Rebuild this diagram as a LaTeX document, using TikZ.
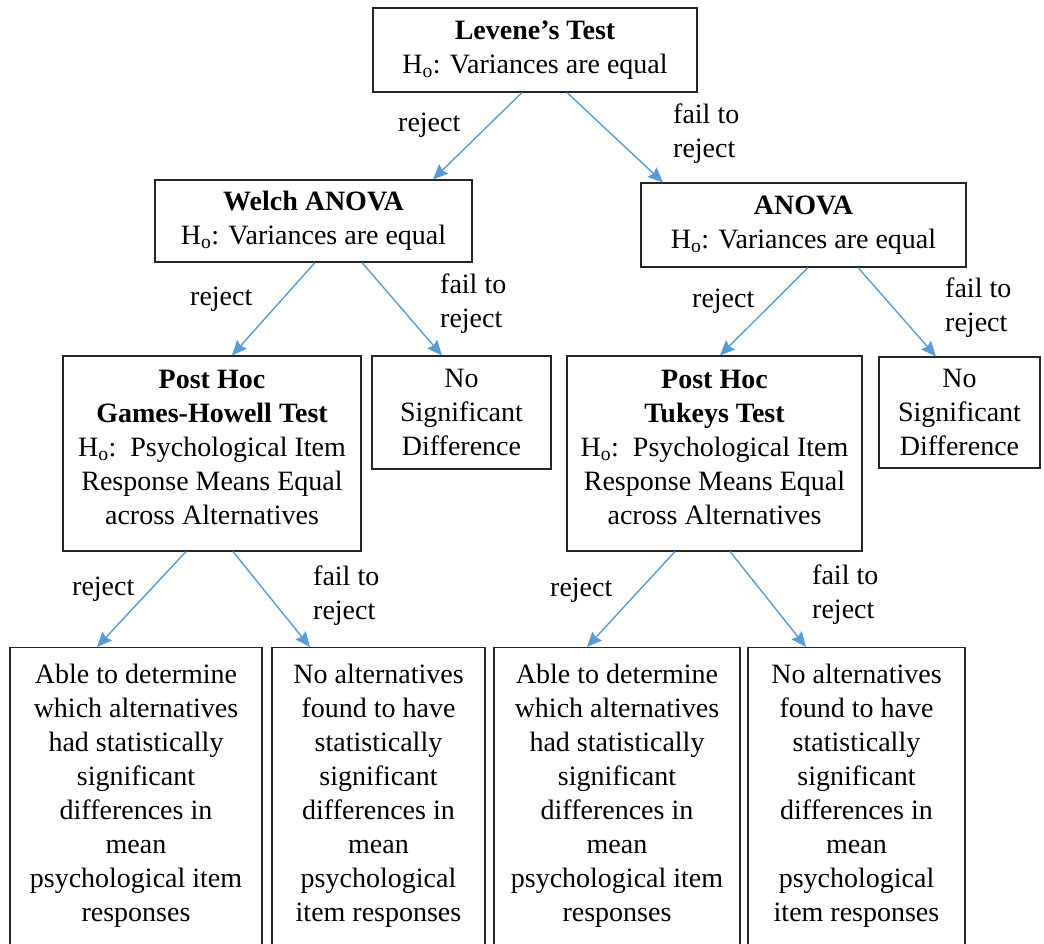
\documentclass[tikz,border=0pt]{standalone}
\usepackage{fontspec}
\setmainfont{Liberation Serif}
\usetikzlibrary{arrows.meta}
\definecolor{flowblue}{HTML}{5B9BD5}
\newcommand{\Hnull}{H\textsubscript{o}:}
\begin{document}
\begin{tikzpicture}[x=1pt,y=-1pt,
  every node/.style={font=\fontsize{28}{34}\selectfont},
  box/.style={draw=black!85, line width=1.1pt, inner sep=0pt, align=center},
  lbl/.style={align=left, inner sep=0pt},
  flow/.style={draw=flowblue, line width=1.4pt,
    -{Stealth[length=15pt,width=13pt,inset=2pt]}}]
\useasboundingbox (0,0) rectangle (1044,944);

% decision boxes
\node[box, minimum width=324pt, minimum height=84pt] (lev) at (535,50)
  {\textbf{Levene’s Test}\\\Hnull{} Variances are equal};
\node[box, minimum width=317pt, minimum height=82pt] (welch) at (313.5,221)
  {\textbf{Welch ANOVA}\\\Hnull{} Variances are equal};
\node[box, minimum width=325pt, minimum height=84pt] (anova) at (803.5,225)
  {\textbf{ANOVA}\\\Hnull{} Variances are equal};
\node[box, minimum width=298pt, minimum height=195pt, text depth=12pt] (gh) at (212,453.5)
  {\textbf{Post Hoc}\\\textbf{Games-Howell Test}\\\Hnull\hspace{0.5em}Psychological Item\\Response Means Equal\\across Alternatives};
\node[box, minimum width=179pt, minimum height=113pt] (ns1) at (461.5,412.5)
  {No\\Significant\\Difference};
\node[box, minimum width=295pt, minimum height=195pt, text depth=12pt] (tk) at (714.5,453.5)
  {\textbf{Post Hoc}\\\textbf{Tukeys Test}\\\Hnull\hspace{0.5em}Psychological Item\\Response Means Equal\\across Alternatives};
\node[box, minimum width=161pt, minimum height=111pt] (ns2) at (959.5,412.5)
  {No\\Significant\\Difference};

% outcome boxes, running off the lower edge
\node[box, anchor=north, minimum width=252pt, minimum height=320pt] (b1) at (136,647) {};
\node[box, anchor=north, minimum width=213pt, minimum height=320pt] (b2) at (378.5,647) {};
\node[box, anchor=north, minimum width=246pt, minimum height=320pt] (b3) at (617,647) {};
\node[box, anchor=north, minimum width=217pt, minimum height=320pt] (b4) at (856.5,647) {};
\node[align=center, inner sep=0pt, anchor=north] (b1t) at (136,664)
  {Able to determine\\which alternatives\\had statistically\\significant\\differences in\\mean\\psychological item\\responses};
\node[align=center, inner sep=0pt, anchor=north] (b2t) at (378.5,664)
  {No alternatives\\found to have\\statistically\\significant\\differences in\\mean\\psychological\\item responses};
\node[align=center, inner sep=0pt, anchor=north] (b3t) at (617,664)
  {Able to determine\\which alternatives\\had statistically\\significant\\differences in\\mean\\psychological item\\responses};
\node[align=center, inner sep=0pt, anchor=north] (b4t) at (856.5,664)
  {No alternatives\\found to have\\statistically\\significant\\differences in\\mean\\psychological\\item responses};

% connectors
\draw[flow] ([xshift=-13pt]lev.south) -- ([xshift=119.5pt]welch.north);
\draw[flow] ([xshift=32pt]lev.south) -- ([xshift=-140.5pt]anova.north);
\draw[flow] ([xshift=1.5pt]welch.south) -- ([xshift=20pt]gh.north);
\draw[flow] ([xshift=48.5pt]welch.south) -- ([xshift=-19.5pt]ns1.north);
\draw[flow] ([xshift=4.5pt]anova.south) -- ([xshift=5.5pt]tk.north);
\draw[flow] ([xshift=54.5pt]anova.south) -- ([xshift=-23.5pt]ns2.north);
\draw[flow] ([xshift=-26pt]gh.south) -- ([xshift=-39pt]b1.north);
\draw[flow] ([xshift=21pt]gh.south) -- ([xshift=-68.5pt]b2.north);
\draw[flow] ([xshift=-39.5pt]tk.south) -- ([xshift=-30pt]b3.north);
\draw[flow] ([xshift=15.5pt]tk.south) -- ([xshift=-50.5pt]b4.north);

% branch labels
\node[lbl, anchor=base west] (r1) at (398,132) {reject};
\node[lbl, anchor=north west] (f1) at (673,104) {fail to\\reject};
\node[lbl, anchor=base west] (r2) at (190,305) {reject};
\node[lbl, anchor=north west] (f2) at (440,274) {fail to\\reject};
\node[lbl, anchor=base west] (r3) at (692,307) {reject};
\node[lbl, anchor=north west] (f3) at (945,278) {fail to\\reject};
\node[lbl, anchor=base west] (r4) at (72,595) {reject};
\node[lbl, anchor=north west] (f4) at (313,566) {fail to\\reject};
\node[lbl, anchor=base west] (r5) at (550,596) {reject};
\node[lbl, anchor=north west] (f5) at (812,565) {fail to\\reject};
\end{tikzpicture}
\end{document}
